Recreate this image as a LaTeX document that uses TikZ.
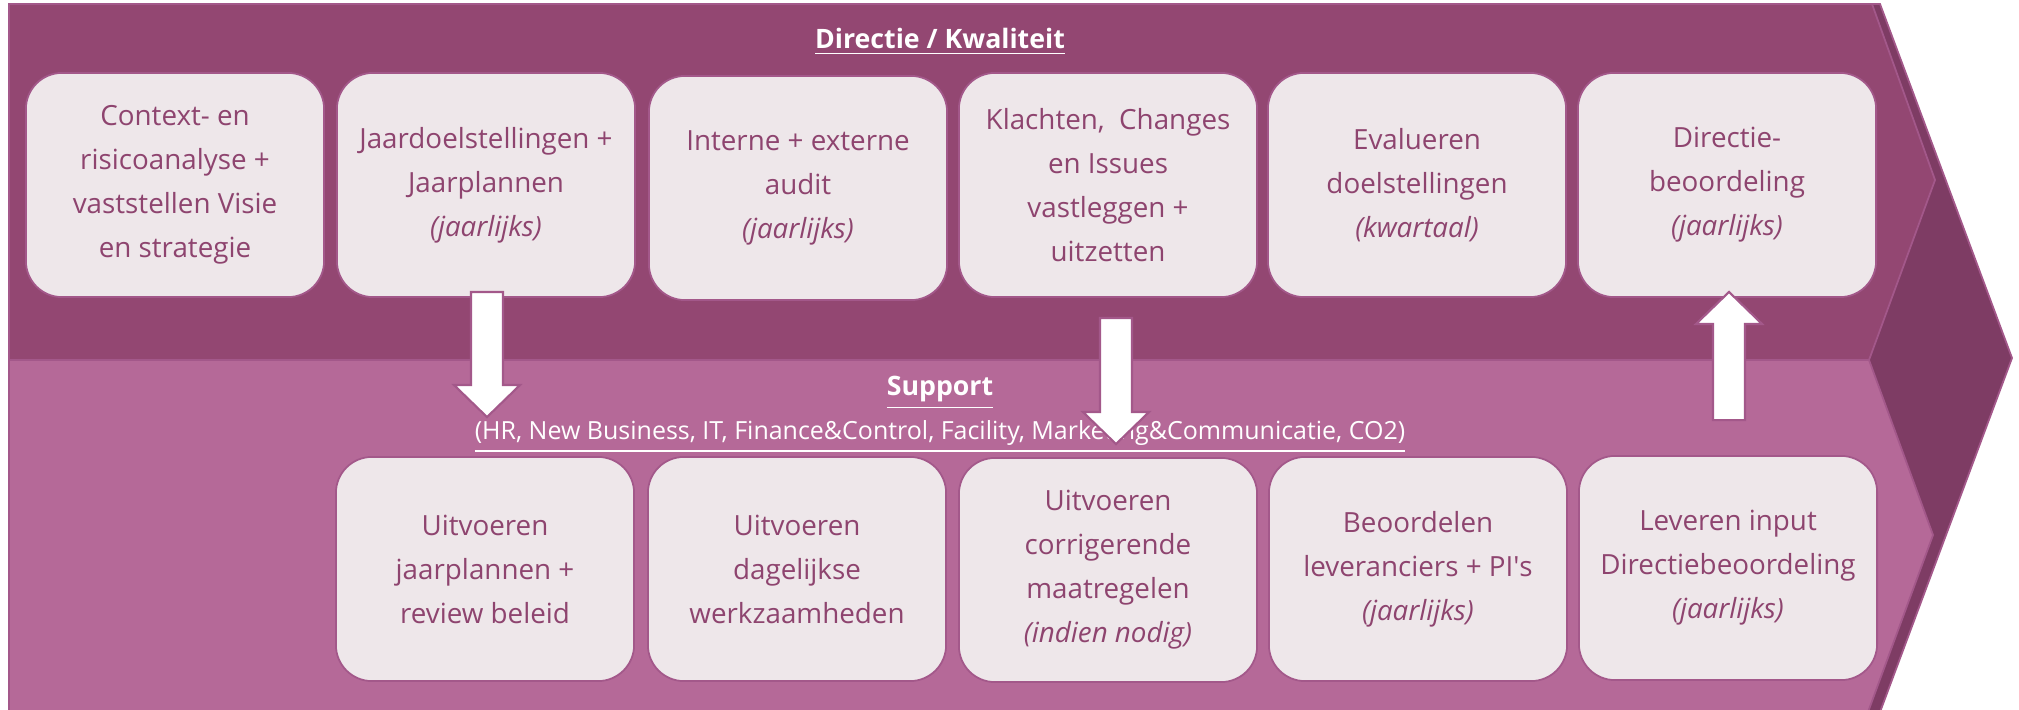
\documentclass[tikz,border=0pt]{standalone}
\usepackage{fontspec}
\setmainfont{Open Sans}
\usepackage{tikz}
\usetikzlibrary{calc}
\definecolor{darkplum}{RGB}{126,60,100}
\definecolor{topplum}{RGB}{147,71,114}
\definecolor{lowplum}{RGB}{181,105,152}
\definecolor{plumline}{RGB}{163,88,138}
\definecolor{boxfill}{RGB}{238,231,234}
\definecolor{boxtext}{RGB}{142,68,111}

% block arrow between two points (vertical)
\newcommand{\blockarrow}[2]{%
  \path (#1) coordinate (ba-s) (#2) coordinate (ba-t) ($(ba-t)!0.32cm!(ba-s)$) coordinate (ba-h);
  \draw[blockarrow] ($(ba-s)+(-16,0)$) -- ($(ba-s)+(16,0)$) -- ($(ba-h)+(16,0)$) -- ($(ba-h)+(33,0)$)
    -- (ba-t) -- ($(ba-h)+(-33,0)$) -- ($(ba-h)+(-16,0)$) -- cycle;}

\begin{document}
\begin{tikzpicture}[x=0.01cm, y=-0.01cm,
    step box/.style={draw=plumline, line width=0.5pt, fill=boxfill, rounded corners=0.36cm,
      minimum width=2.98cm, minimum height=2.24cm, align=center, text=boxtext,
      font=\fontsize{7.9}{12.5}\selectfont},
    blockarrow/.style={draw=plumline, fill=white, line width=0.6pt},
    band/.style={draw=plumline, line width=0.5pt}]
  \useasboundingbox (0,0) rectangle (2019,709);

  % achtergrond
  \fill[darkplum, draw=plumline, line width=0.5pt] (1700,4) -- (1880,4) -- (2012,358) -- (1880,712) -- (1700,712) -- cycle;
  \draw[band, fill=topplum] (9,4) -- (1872,4) -- (1935,180) -- (1869,360) -- (9,360) -- cycle;
  \draw[band, fill=lowplum] (9,360) -- (1869,360) -- (1933,535) -- (1868,712) -- (9,712) -- cycle;

  \node[text=white, font=\fontsize{7.6}{9}\selectfont\bfseries] (dirtitle) at (940,42) {\underline{Directie / Kwaliteit}};
  \node[text=white, font=\fontsize{7.6}{9}\selectfont\bfseries] (suptitle) at (940,393) {\underline{Support}};
  \node[text=white, font=\fontsize{7.1}{9}\selectfont] (supsub) at (940,437) {\underline{(HR, New Business, IT, Finance\&Control, Facility, Marketing\&Communicatie, CO2)}};

  % directie
  \node[step box] (ctx) at (175,185) {Context- en\\risicoanalyse +\\vaststellen Visie\\en strategie};
  \node[step box] (plan) at (486,185) {Jaardoelstellingen +\\Jaarplannen\\\textit{(jaarlijks)}};
  \node[step box] (audit) at (798,188) {Interne + externe\\audit\\\textit{(jaarlijks)}};
  \node[step box] (klacht) at (1108,185) {Klachten,\ \ Changes\\en Issues\\vastleggen +\\uitzetten};
  \node[step box] (eval) at (1417,185) {Evalueren\\doelstellingen\\\textit{(kwartaal)}};
  \node[step box] (dirb) at (1727,185) {Directie-\\beoordeling\\\textit{(jaarlijks)}};

  % support
  \node[step box] (uitjp) at (485,569) {Uitvoeren\\jaarplannen +\\review beleid};
  \node[step box] (uitdag) at (797,569) {Uitvoeren\\dagelijkse\\werkzaamheden};
  \node[step box] (corr) at (1108,570) {Uitvoeren\\corrigerende\\maatregelen\\\textit{(indien nodig)}};
  \node[step box] (lev) at (1418,569) {Beoordelen\\leveranciers + PI\textquotesingle s\\\textit{(jaarlijks)}};
  \node[step box] (input) at (1728,568) {Leveren input\\Directiebeoordeling\\\textit{(jaarlijks)}};

  \blockarrow{$(plan.south)+(1,-6)$}{$(uitjp.north)+(2,-39)$}
  \blockarrow{$(klacht.south)+(8,20)$}{$(corr.north)+(8,-13)$}
  \blockarrow{$(input.north)+(1,-35)$}{$(dirb.south)+(2,-6)$}
\end{tikzpicture}
\end{document}
